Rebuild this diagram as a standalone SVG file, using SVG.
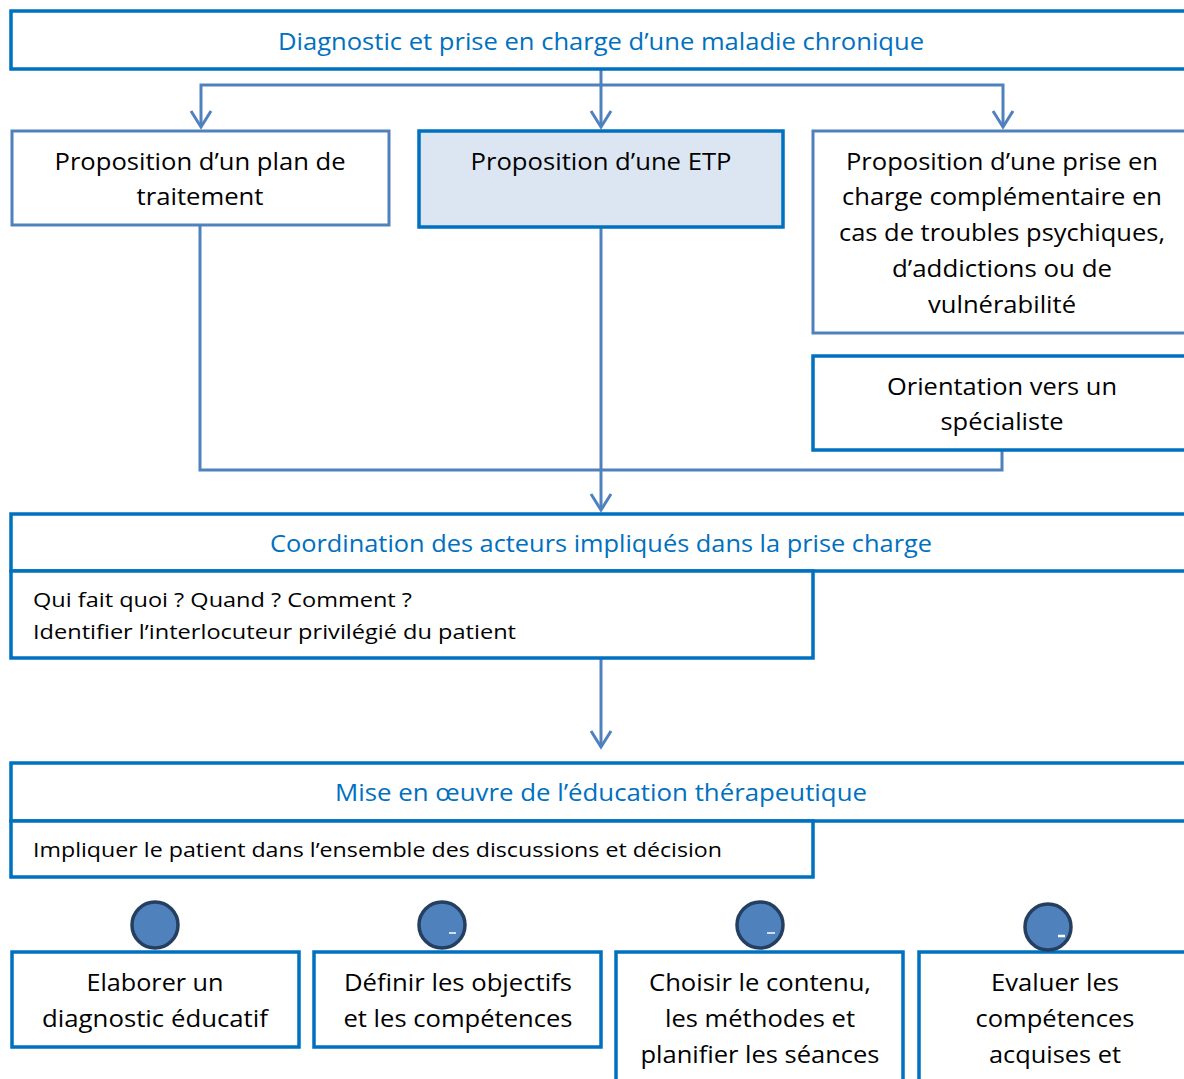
<svg xmlns="http://www.w3.org/2000/svg" width="1184" height="1079" viewBox="0 0 1184 1079">
<style>
text{font-family:"Open Sans","Noto Sans","DejaVu Sans",sans-serif;fill:#000}
.m{font-size:23px;text-anchor:middle}
.t{font-size:23px;text-anchor:middle;fill:#0070C0}
.s{font-size:20px}
.b{fill:#fff;stroke:#0070C0;stroke-width:3.5}
.g{fill:#fff;stroke:#4F81BD;stroke-width:3}
.c{fill:none;stroke:#4F81BD;stroke-width:3}
.dot{fill:#4F81BD;stroke:#243F60;stroke-width:3.5}
.w{stroke:#fff;stroke-width:1.5}
</style>
<defs>
<marker id="ah" viewBox="-20 -13 24 26" refX="0" refY="0" markerWidth="24" markerHeight="26" markerUnits="userSpaceOnUse" orient="auto" overflow="visible">
<path d="M-16,-10 L0,0 L-16,10" fill="none" stroke="#4F81BD" stroke-width="3"/>
</marker>
</defs>
<g id="connectors">
<path class="c" d="M601,69 V127" marker-end="url(#ah)"/>
<path class="c" d="M601,85 H201 V127" marker-end="url(#ah)"/>
<path class="c" d="M601,85 H1003 V127" marker-end="url(#ah)"/>
<path class="c" d="M200,225 V470 H1002 V450"/>
<path class="c" d="M601,227 V510" marker-end="url(#ah)"/>
<path class="c" d="M601,658 V747" marker-end="url(#ah)"/>
</g>
<g id="n-diagnostic">
<rect class="b" x="11" y="11" width="1180" height="58"/>
<text class="t" x="601" y="50" textLength="646" lengthAdjust="spacingAndGlyphs">Diagnostic et prise en charge d’une maladie chronique</text>
</g>
<g id="n-plan">
<rect class="g" x="12" y="131" width="377" height="94"/>
<text class="m" x="200" y="170" textLength="291" lengthAdjust="spacingAndGlyphs">Proposition d’un plan de</text>
<text class="m" x="200" y="205" textLength="127" lengthAdjust="spacingAndGlyphs">traitement</text>
</g>
<g id="n-etp">
<rect x="419" y="131" width="364" height="96" fill="#DCE6F2" stroke="#0070C0" stroke-width="3.5"/>
<text class="m" x="601" y="170" textLength="261" lengthAdjust="spacingAndGlyphs">Proposition d’une ETP</text>
</g>
<g id="n-complementaire">
<rect class="g" x="813" y="131" width="380" height="202"/>
<text class="m" x="1002" y="170" textLength="312" lengthAdjust="spacingAndGlyphs">Proposition d’une prise en</text>
<text class="m" x="1002" y="205" textLength="320" lengthAdjust="spacingAndGlyphs">charge complémentaire en</text>
<text class="m" x="1002" y="241" textLength="326" lengthAdjust="spacingAndGlyphs">cas de troubles psychiques,</text>
<text class="m" x="1002" y="277" textLength="220" lengthAdjust="spacingAndGlyphs">d’addictions ou de</text>
<text class="m" x="1002" y="313" textLength="148" lengthAdjust="spacingAndGlyphs">vulnérabilité</text>
</g>
<g id="n-orientation">
<rect class="b" x="813" y="356" width="380" height="94"/>
<text class="m" x="1002" y="395" textLength="230" lengthAdjust="spacingAndGlyphs">Orientation vers un</text>
<text class="m" x="1002" y="430" textLength="123" lengthAdjust="spacingAndGlyphs">spécialiste</text>
</g>
<g id="n-coordination">
<rect class="b" x="11" y="514" width="1180" height="57"/>
<text class="t" x="601" y="552" textLength="662" lengthAdjust="spacingAndGlyphs">Coordination des acteurs impliqués dans la prise charge</text>
<rect class="b" x="11" y="571" width="802" height="87"/>
<text class="s" x="33" y="607" textLength="379" lengthAdjust="spacingAndGlyphs">Qui fait quoi ? Quand ? Comment ?</text>
<text class="s" x="33" y="639" textLength="483" lengthAdjust="spacingAndGlyphs">Identifier l’interlocuteur privilégié du patient</text>
</g>
<g id="n-mise-en-oeuvre">
<rect class="b" x="11" y="763" width="1180" height="58"/>
<text class="t" x="601" y="801" textLength="532" lengthAdjust="spacingAndGlyphs">Mise en œuvre de l’éducation thérapeutique</text>
<rect class="b" x="11" y="821" width="802" height="56"/>
<text class="s" x="33" y="857" textLength="689" lengthAdjust="spacingAndGlyphs">Impliquer le patient dans l’ensemble des discussions et décision</text>
</g>
<g id="n-elaborer">
<rect class="b" x="12" y="952" width="287" height="95"/>
<text class="m" x="155" y="991" textLength="137" lengthAdjust="spacingAndGlyphs">Elaborer un</text>
<text class="m" x="155" y="1027" textLength="226" lengthAdjust="spacingAndGlyphs">diagnostic éducatif</text>
<circle class="dot" cx="155" cy="925" r="23"/>
</g>
<g id="n-definir">
<rect class="b" x="314" y="952" width="287" height="95"/>
<text class="m" x="458" y="991" textLength="228" lengthAdjust="spacingAndGlyphs">Définir les objectifs</text>
<text class="m" x="458" y="1027" textLength="229" lengthAdjust="spacingAndGlyphs">et les compétences</text>
<circle class="dot" cx="442" cy="925" r="23"/>
<line class="w" x1="449" y1="933" x2="456" y2="933"/>
</g>
<g id="n-choisir">
<rect class="b" x="616" y="952" width="287" height="140"/>
<text class="m" x="760" y="991" textLength="222" lengthAdjust="spacingAndGlyphs">Choisir le contenu,</text>
<text class="m" x="760" y="1027" textLength="190" lengthAdjust="spacingAndGlyphs">les méthodes et</text>
<text class="m" x="760" y="1063" textLength="239" lengthAdjust="spacingAndGlyphs">planifier les séances</text>
<circle class="dot" cx="760" cy="925" r="23"/>
<line class="w" x1="767" y1="933" x2="775" y2="933"/>
</g>
<g id="n-evaluer">
<rect class="b" x="919" y="952" width="280" height="140"/>
<text class="m" x="1055" y="991" textLength="128" lengthAdjust="spacingAndGlyphs">Evaluer les</text>
<text class="m" x="1055" y="1027" textLength="159" lengthAdjust="spacingAndGlyphs">compétences</text>
<text class="m" x="1055" y="1063" textLength="132" lengthAdjust="spacingAndGlyphs">acquises et</text>
<circle class="dot" cx="1048" cy="927" r="23"/>
<line x1="1058" y1="936" x2="1065" y2="936" stroke="#fff" stroke-width="2.5"/>
</g>
</svg>
